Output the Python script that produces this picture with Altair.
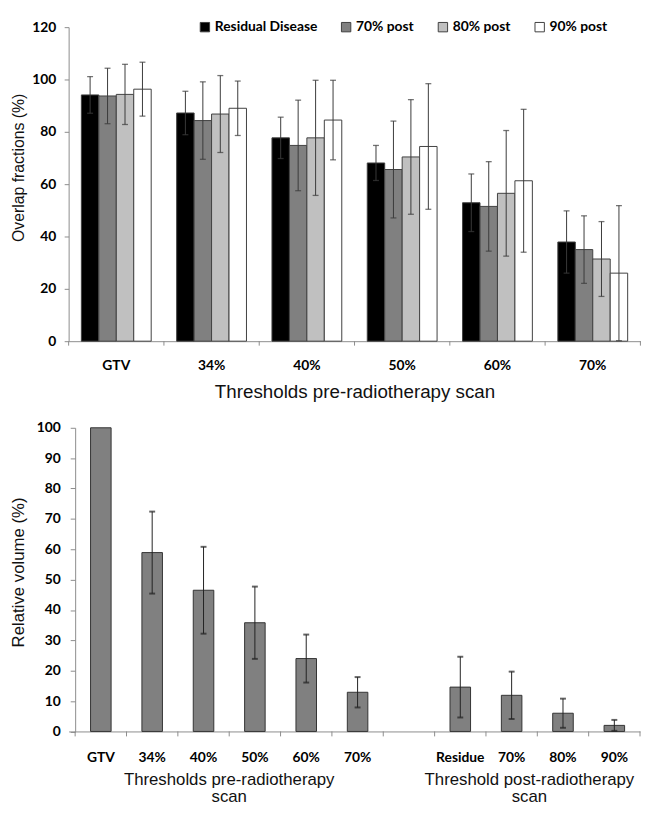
import altair as alt
import pandas as pd

# ---------------- data: top panel (overlap fractions) ----------------
top_categories = ["GTV", "34%", "40%", "50%", "60%", "70%"]
top_series = ["Residual Disease", "70% post", "80% post", "90% post"]
top_colors = ["#000000", "#808080", "#c0c0c0", "#ffffff"]

residual_values = [94.1, 87.2, 77.7, 68.1, 52.9, 37.9]
post70_values = [93.7, 84.3, 74.8, 65.6, 51.5, 35.0]
post80_values = [94.3, 86.8, 77.7, 70.4, 56.5, 31.4]
post90_values = [96.3, 89.0, 84.5, 74.4, 61.3, 26.0]

residual_err = [7.0, 8.3, 7.9, 6.7, 11.0, 11.9]
post70_err = [10.6, 14.8, 17.3, 18.5, 17.1, 12.9]
post80_err = [11.5, 14.7, 22.0, 21.9, 24.0, 14.3]
post90_err = [10.3, 10.4, 15.2, 24.0, 27.3, 25.8]

top_y_ticks = [0, 20, 40, 60, 80, 100, 120]

# ---------------- data: bottom panel (relative volume) ----------------
bottom_keys = ["GTV", "34%", "40%", "50%", "60%", "70%", "gap",
               "Residue", "70% post", "80% post", "90% post"]
bottom_labels = ["GTV", "34%", "40%", "50%", "60%", "70%", "",
                 "Residue", "70%", "80%", "90%"]
bottom_values = [100, 58.9, 46.5, 35.8, 24.0, 12.9, None, 14.6, 11.9, 6.0, 2.0]
bottom_err = [None, 13.5, 14.3, 11.9, 7.9, 5.0, None, 10.0, 7.8, 4.8, 1.8]
bottom_y_ticks = [0, 10, 20, 30, 40, 50, 60, 70, 80, 90, 100]

bottom_group_titles = ["Thresholds pre-radiotherapy\nscan", "Threshold post-radiotherapy\nscan"]
bottom_group_anchor = ["50%", "80% post"]
bottom_group_dx = [0, -8]

# ---------------- tables ----------------
rows = []
for s, vals, errs in zip(top_series,
                         [residual_values, post70_values, post80_values, post90_values],
                         [residual_err, post70_err, post80_err, post90_err]):
    for c, v, e in zip(top_categories, vals, errs):
        rows.append({"cat": c, "series": s, "value": v, "lo": v - e, "hi": v + e})
top_df = pd.DataFrame(rows)

brows = []
for k, v, e in zip(bottom_keys, bottom_values, bottom_err):
    brows.append({"cat": k, "value": v,
                  "lo": (v - e) if (v is not None and e is not None) else None,
                  "hi": (v + e) if (v is not None and e is not None) else None})
bottom_df = pd.DataFrame(brows)
bottom_bars_df = bottom_df.dropna(subset=["value"])
bottom_err_df = bottom_df.dropna(subset=["lo"])

LABEL_FONT = "Lato"
TITLE_FONT = "Liberation Sans"
AXIS_GRAY = "#8c8c8c"
ERR_COLOR = "#3a3a3a"

# ---------------- top panel ----------------
W1, H1 = 579, 318

def top_x(band_pos=None):
    kw = {}
    if band_pos is not None:
        kw["bandPosition"] = band_pos
    return alt.X("cat:N", sort=top_categories,
                 scale=alt.Scale(domain=top_categories, paddingInner=0, paddingOuter=0),
                 axis=alt.Axis(title="Thresholds pre-radiotherapy scan", labelAngle=0,
                               ticks=False, labelPadding=18, titlePadding=10.5,
                               titleFontSize=19),
                 **kw)

top_xoff = alt.XOffset("series:N", sort=top_series,
                       scale=alt.Scale(domain=top_series, paddingInner=0, paddingOuter=0.73))
top_y_scale = alt.Scale(domain=[0, 120], nice=False)
top_y_axis = alt.Axis(values=top_y_ticks, title="Overlap fractions (%)",
                      tickSize=4.5, labelPadding=8.5, titlePadding=5, titleFontSize=16,
                      titleY=142)

base_top = alt.Chart(top_df)
top_bars = base_top.mark_bar(stroke="#404040", strokeWidth=1).encode(
    x=top_x(), xOffset=top_xoff,
    y=alt.Y("value:Q", scale=top_y_scale, axis=top_y_axis),
    fill=alt.Fill("series:N", sort=top_series,
                  scale=alt.Scale(domain=top_series, range=top_colors),
                  legend=alt.Legend(orient="none", legendX=131, legendY=-7,
                                    direction="horizontal", title=None,
                                    symbolType="square", symbolSize=90,
                                    symbolStrokeColor="#404040", symbolStrokeWidth=1,
                                    labelFont=LABEL_FONT, labelFontWeight="bold",
                                    labelFontSize=14, labelColor="#000",
                                    columnPadding=22, labelOffset=3, padding=0)),
)
top_err = base_top.mark_rule(color=ERR_COLOR, strokeWidth=1).encode(
    x=top_x(), xOffset=top_xoff,
    y=alt.Y("lo:Q", scale=top_y_scale, axis=top_y_axis), y2="hi:Q")
top_cap_hi = base_top.mark_tick(color=ERR_COLOR, size=6, thickness=1.3).encode(
    x=top_x(), xOffset=top_xoff, y=alt.Y("hi:Q", scale=top_y_scale, axis=top_y_axis))
top_cap_lo = base_top.mark_tick(color=ERR_COLOR, size=6, thickness=1.3).encode(
    x=top_x(), xOffset=top_xoff, y=alt.Y("lo:Q", scale=top_y_scale, axis=top_y_axis))

top_tick_df = pd.DataFrame({"cat": top_categories})
top_ticks = alt.Chart(top_tick_df).mark_rule(color=AXIS_GRAY).encode(
    x=top_x(0), y=alt.value(H1), y2=alt.value(H1 + 4.5))
top_tick_end = alt.Chart(top_tick_df.tail(1)).mark_rule(color=AXIS_GRAY).encode(
    x=top_x(1), y=alt.value(H1), y2=alt.value(H1 + 4.5))

top_chart = alt.layer(top_bars, top_err, top_cap_hi, top_cap_lo, top_ticks, top_tick_end
                      ).properties(width=W1, height=H1)

# ---------------- bottom panel ----------------
W2, H2 = 578.6, 307.5

keys_js = "[" + ",".join("'" + k + "'" for k in bottom_keys) + "]"
labels_js = "[" + ",".join("'" + l + "'" for l in bottom_labels) + "]"
label_expr = f"{labels_js}[indexof({keys_js}, datum.value)]"

def bot_x(band_pos=None):
    kw = {}
    if band_pos is not None:
        kw["bandPosition"] = band_pos
    return alt.X("cat:N", sort=bottom_keys,
                 scale=alt.Scale(domain=bottom_keys, paddingInner=0, paddingOuter=0.0635,
                                 align=1),
                 axis=alt.Axis(title=None, labelAngle=0, ticks=False, labelPadding=19,
                               labelExpr=label_expr),
                 **kw)

bot_y_scale = alt.Scale(domain=[0, 100], nice=False)
bot_y_axis = alt.Axis(values=bottom_y_ticks, title="Relative volume (%)", titleFontSize=17,
                      tickSize=5, labelPadding=10, titlePadding=8.6, offset=-6.6,
                      titleY=146)

bot_bars = alt.Chart(bottom_bars_df).mark_bar(
    width=alt.RelativeBandSize(0.4), color="#808080", stroke="#333333", strokeWidth=1
).encode(x=bot_x(), y=alt.Y("value:Q", scale=bot_y_scale, axis=bot_y_axis))
bot_err = alt.Chart(bottom_err_df).mark_rule(color="#222222", strokeWidth=1).encode(
    x=bot_x(), y=alt.Y("lo:Q", scale=bot_y_scale, axis=bot_y_axis), y2="hi:Q")
bot_cap_hi = alt.Chart(bottom_err_df).mark_tick(color="#222222", size=6, thickness=2).encode(
    x=bot_x(), y=alt.Y("hi:Q", scale=bot_y_scale, axis=bot_y_axis))
bot_cap_lo = alt.Chart(bottom_err_df).mark_tick(color="#222222", size=6, thickness=2).encode(
    x=bot_x(), y=alt.Y("lo:Q", scale=bot_y_scale, axis=bot_y_axis))

bot_tick_df = pd.DataFrame({"cat": bottom_keys})
bot_ticks = alt.Chart(bot_tick_df).mark_rule(color=AXIS_GRAY).encode(
    x=bot_x(0), y=alt.value(H2), y2=alt.value(H2 + 5))
bot_tick_end = alt.Chart(bot_tick_df.tail(1)).mark_rule(color=AXIS_GRAY).encode(
    x=bot_x(1), y=alt.value(H2), y2=alt.value(H2 + 5))

title_df = pd.DataFrame({"cat": bottom_group_anchor, "text": bottom_group_titles,
                         "dx": bottom_group_dx})
bot_titles = alt.Chart(title_df).mark_text(
    lineBreak="\n", baseline="top", align="center", font=TITLE_FONT, fontSize=17,
    lineHeight=17.5, color="#111111"
).encode(x=bot_x(0), y=alt.value(H2 + 41), text="text:N",
         xOffset=alt.XOffset("dx:Q", scale=None))

bottom_chart = alt.layer(bot_bars, bot_err, bot_cap_hi, bot_cap_lo, bot_ticks, bot_tick_end,
                         bot_titles).properties(width=W2, height=H2)

# fixed canvas (641 x 806) that fills the 649 x 814 page inside its 8px margin
chart = alt.vconcat(top_chart, bottom_chart, spacing=18.7).properties(
    autosize=alt.AutoSizeParams(type="none"),
    padding={"left": 61.4, "top": 14.3, "right": 579.6, "bottom": 791.7},
).configure_view(stroke=None).configure_axis(
    grid=False,
    domainColor=AXIS_GRAY, tickColor=AXIS_GRAY,
    labelFont=LABEL_FONT, labelFontWeight="bold", labelFontSize=14, labelColor="#000000",
    titleFont=TITLE_FONT, titleFontWeight="normal", titleColor="#111111",
)

chart.save("out.html", embed_options={"renderer": "svg", "actions": False})
